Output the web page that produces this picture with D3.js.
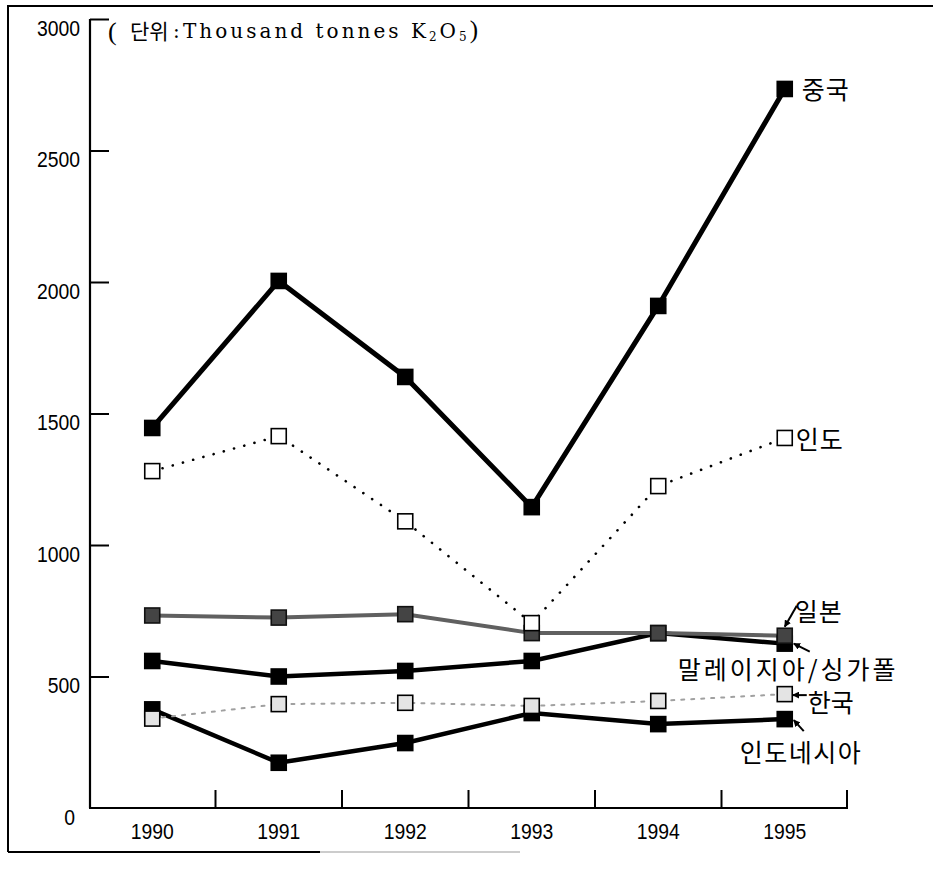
<!DOCTYPE html>
<html><head><meta charset="utf-8">
<script src="https://cdn.jsdelivr.net/npm/d3@7"></script>
<style>body{margin:0;background:#fff} svg{display:block}</style>
</head><body><svg id="c" width="933" height="869"></svg>
<script>
// ---- data ----
const years = ["1990","1991","1992","1993","1994","1995"];
const yTicks = [0,500,1000,1500,2000,2500,3000];
const china     = [1445,2004,1639,1144,1909,2734];
const india     = [1281,1414,1090,703,1224,1407];
const japan     = [732,724,737,665,665,655];
const malaysia  = [559,500,521,559,665,625];
const korea     = [340,395,400,388,407,433];
const indonesia = [375,172,247,361,319,338];
const names = ["중국","인도","일본","말레이지아/싱가폴","한국","인도네시아"];

// ---- styles (drawing order: bottom first) ----
const series = [
  {name:names[5], values:indonesia, line:"#000", w:4.5, dash:null, fill:"#000", stroke:"#000"},
  {name:names[4], values:korea, line:"#a0a0a0", w:2, dash:"3,7", fill:"#e4e4e4", stroke:"#000"},
  {name:names[3], values:malaysia, line:"#000", w:4.5, dash:null, fill:"#000", stroke:"#000"},
  {name:names[2], values:japan, line:"#606060", w:4, dash:null, fill:"#444", stroke:"#111"},
  {name:names[1], values:india, line:"#000", w:2.6, dash:"0.1,10.5", fill:"#fff", stroke:"#000"},
  {name:names[0], values:china, line:"#000", w:5, dash:null, fill:"#000", stroke:"#000"}
];
// label offsets relative to the last point of each series
const labelCfg = {
  "중국":{dx:17,dy:-1,ls:1},
  "인도":{dx:11,dy:0,ls:1},
  "일본":{dx:10,dy:-26,ls:1},
  "말레이지아/싱가폴":{dx:-107,dy:24,ls:3},
  "한국":{dx:23,dy:7,ls:0},
  "인도네시아":{dx:-45,dy:32,ls:1.5}
};
// arrows: [x1,y1,x2,y2] offsets relative to last point (head at x2,y2)
const arrowCfg = {
  "일본":[12,-30,0,-9],
  "말레이지아/싱가폴":[25,8,9,0],
  "한국":[22,1,8,1],
  "인도네시아":[19,12,9,1]
};

const svg = d3.select("#c");
const x = d3.scaleBand().domain(years).range([89,848]);
const y = d3.scaleLinear().domain([0,3000]).range([808,19]);
const cx = d => x(d) + x.bandwidth()/2;

// frame
svg.append("path").attr("d","M8,852 L8,6 L933,6").attr("fill","none").attr("stroke","#000").attr("stroke-width",2);
svg.append("line").attr("x1",8).attr("x2",320).attr("y1",852).attr("y2",852).attr("stroke","#000").attr("stroke-width",2);
svg.append("line").attr("x1",320).attr("x2",520).attr("y1",852).attr("y2",852).attr("stroke","#bbb").attr("stroke-width",1.5);

const tickFont = "'Liberation Sans', Arial, sans-serif";
const sx = 0.88;

// y axis
const yAxis = d3.axisRight(y).tickValues(yTicks.slice(1)).tickSize(19).tickFormat("");
const gy = svg.append("g").attr("transform","translate(90,0)").call(yAxis);
gy.select(".domain").attr("d","M0,19V808").attr("stroke","#000").attr("stroke-width",2.2);
gy.selectAll(".tick line").attr("stroke","#000").attr("stroke-width",2);
svg.append("g").selectAll("text").data(yTicks).join("text")
  .attr("x", d => d===0 ? 75 : 80).attr("y", d => y(d) + 9)
  .attr("text-anchor","end").attr("dominant-baseline","central")
  .attr("font-family",tickFont).attr("font-size",22).attr("fill","#000")
  .attr("transform", d => `translate(${(d===0?75:80)*(1-sx)},0) scale(${sx},1)`)
  .text(d => d);

// x axis
const gx = svg.append("g").attr("transform","translate(0,808)");
gx.append("line").attr("x1",89).attr("x2",848).attr("y1",0).attr("y2",0).attr("stroke","#000").attr("stroke-width",2.2);
gx.selectAll("line.t").data(years.slice(1).concat(["end"])).join("line").attr("class","t")
  .attr("x1", d => d==="end" ? 847 : x(d)).attr("x2", d => d==="end" ? 847 : x(d))
  .attr("y1",0).attr("y2",-18).attr("stroke","#000").attr("stroke-width",2);
gx.selectAll("text").data(years).join("text")
  .attr("x", d => cx(d)).attr("y",23)
  .attr("text-anchor","middle").attr("dominant-baseline","central")
  .attr("font-family",tickFont).attr("font-size",22)
  .attr("transform", d => `translate(${cx(d)*(1-sx)},0) scale(${sx},1)`)
  .text(d => d);

// lines & markers
const line = d3.line().x((d,i) => cx(years[i])).y(d => y(d));
const ms = 15;
series.forEach(s => {
  svg.append("path").attr("d", line(s.values)).attr("fill","none")
    .attr("stroke", s.line).attr("stroke-width", s.w)
    .attr("stroke-dasharray", s.dash).attr("stroke-linecap", s.dash ? "round" : "butt")
    .attr("stroke-linejoin","miter");
});
series.forEach(s => {
  svg.append("g").selectAll("rect").data(s.values).join("rect")
    .attr("x",(d,i) => cx(years[i]) - ms/2).attr("y", d => y(d) - ms/2)
    .attr("width", ms).attr("height", ms)
    .attr("fill", s.fill).attr("stroke", s.stroke).attr("stroke-width", 1.6);
});

// arrowhead marker
svg.append("defs").append("marker").attr("id","ah").attr("viewBox","0 0 10 10")
  .attr("refX",9).attr("refY",5).attr("markerWidth",7).attr("markerHeight",7)
  .attr("markerUnits","userSpaceOnUse").attr("orient","auto")
  .append("path").attr("d","M0,0 L10,5 L0,10 Z").attr("fill","#000");

// labels
series.forEach(s => {
  const lx = cx(years[5]), ly = y(s.values[5]);
  const c = labelCfg[s.name];
  svg.append("text").attr("x", lx + c.dx).attr("y", ly + c.dy)
    .attr("dominant-baseline","central")
    .attr("font-family","'Noto Sans CJK KR', sans-serif").attr("font-size",25)
    .attr("letter-spacing", c.ls).attr("fill","#000").text(s.name);
  const a = arrowCfg[s.name];
  if (a) {
    svg.append("line").attr("x1", lx + a[0]).attr("y1", ly + a[1])
      .attr("x2", lx + a[2]).attr("y2", ly + a[3])
      .attr("stroke","#000").attr("stroke-width",2).attr("marker-end","url(#ah)");
  }
});

// unit title
const t = svg.append("g").attr("fill","#000");
t.append("text").attr("x",108).attr("y",40).attr("font-family","'Liberation Serif', serif").attr("font-size",26).text("(");
t.append("text").attr("x",130).attr("y",39).attr("font-family","'Noto Sans CJK KR', sans-serif").attr("font-size",21).text("단위");
t.append("text").attr("x",173).attr("y",38).attr("font-family","'DejaVu Serif', serif").attr("font-size",20).text(":");
const tt = t.append("text").attr("x",183).attr("y",38).attr("font-family","'DejaVu Serif', serif")
  .attr("font-size",20).attr("textLength",295).attr("lengthAdjust","spacing");
tt.append("tspan").text("Thousand tonnes K");
tt.append("tspan").attr("font-size",12).attr("dy",3).text("2");
tt.append("tspan").attr("dy",-3).text("O");
tt.append("tspan").attr("font-size",12).attr("dy",3).text("5");
tt.append("tspan").attr("dy",-3).attr("font-family","'Liberation Serif', serif").attr("font-size",25).text(")");
</script></body></html>
